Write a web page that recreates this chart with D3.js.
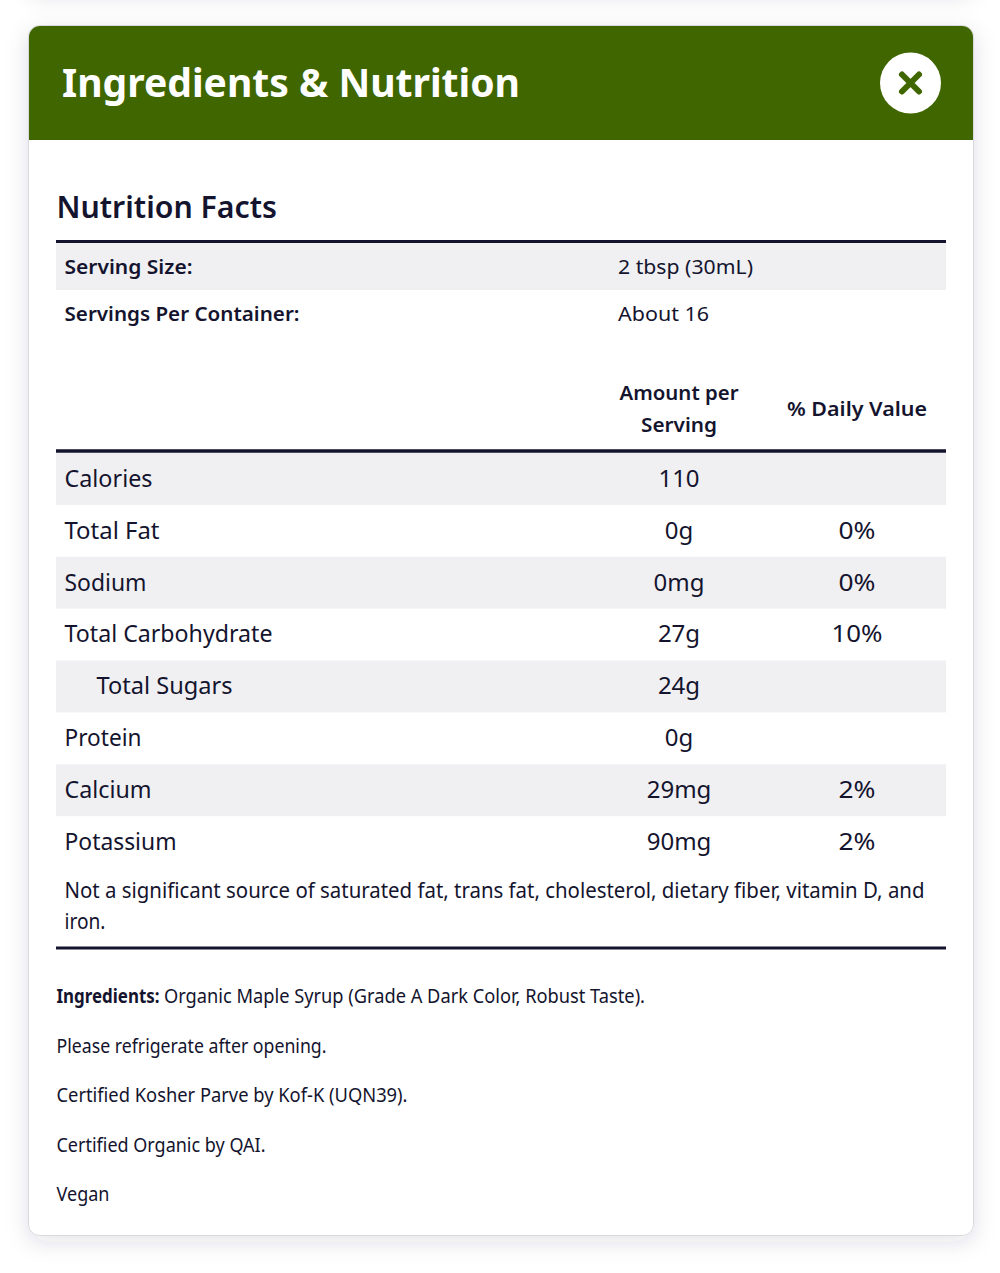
<!DOCTYPE html>
<html>
<head>
<meta charset="utf-8">
<script src="https://cdn.jsdelivr.net/npm/d3@7"></script>
<style>
  html, body { margin: 0; padding: 0; background: #fff; }
  svg { display: block; }
  text { font-family: "Noto Sans", sans-serif; fill: #14142e; }
</style>
</head>
<body>
<div class="canvas"></div>
<script>
// table content
const title = 'Ingredients & Nutrition';
const subtitle = 'Nutrition Facts';
const servingLabels = ['Serving Size:', 'Servings Per Container:'];
const servingValues = ['2 tbsp (30mL)', 'About 16'];
const nutrients = ['Calories', 'Total Fat', 'Sodium', 'Total Carbohydrate', 'Total Sugars', 'Protein', 'Calcium', 'Potassium'];
const amounts = ['110', '0g', '0mg', '27g', '24g', '0g', '29mg', '90mg'];
const dailyValues = ['', '0%', '0%', '10%', '', '', '2%', '2%'];
const indented = ['Total Sugars'];
const footnote = ['Not a significant source of saturated fat, trans fat, cholesterol, dietary fiber, vitamin D, and', 'iron.'];
const notes = ['Organic Maple Syrup (Grade A Dark Color, Robust Taste).', 'Please refrigerate after opening.', 'Certified Kosher Parve by Kof-K (UQN39).', 'Certified Organic by QAI.', 'Vegan'];

const svg = d3.select('.canvas')
    .append('svg')
        .attr('width', 1000)
        .attr('height', 1273);

const green = '#406600';
const ink = '#14142e';
const stripe = '#f0f0f3';

// shadow for the cards
const defs = svg.append('defs');
const shadow = defs.append('filter').attr('id', 'shadow')
    .attr('filterUnits', 'userSpaceOnUse')
    .attr('x', -100).attr('y', -200).attr('width', 1200).attr('height', 1600);
shadow.append('feDropShadow')
    .attr('dx', 0).attr('dy', 6).attr('stdDeviation', 11)
    .attr('flood-color', '#20204a').attr('flood-opacity', 0.13);

// scales
const left = 56, right = 946;
const rowY = d3.scaleBand().domain(nutrients).range([453, 868]);
const servingY = d3.scaleBand().domain(servingLabels).range([243, 337]);
const notesY = d3.scalePoint().domain(notes).range([996.5, 1194.5]);
const colX = d3.scaleOrdinal().domain(['amount', 'daily']).range([679, 857]);

// helper, squeezes the substitute font to the width of the original
const label = (x, y, str, size, weight, width, anchor) => svg.append('text')
    .attr('x', x)
    .attr('y', y)
    .attr('dy', '0.35em')
    .attr('text-anchor', anchor || 'start')
    .attr('font-size', size)
    .attr('font-weight', weight)
    .attr('textLength', width)
    .attr('lengthAdjust', 'spacingAndGlyphs')
    .text(str);

// previous card peeking in at the top, then the card
svg.append('rect').attr('x', 29).attr('y', -60).attr('width', 944).attr('height', 50)
    .attr('rx', 10).attr('fill', '#fff').attr('filter', 'url(#shadow)');
svg.append('rect').attr('x', 28.5).attr('y', 25.5).attr('width', 945).attr('height', 1210)
    .attr('rx', 11).attr('fill', '#fff').attr('stroke', '#d8d8de').attr('filter', 'url(#shadow)');

// header
svg.append('path')
    .attr('d', 'M29,140V37a11,11 0 0 1 11,-11H962a11,11 0 0 1 11,11V140Z')
    .attr('fill', green);
label(62, 83, title, 40, 700, 458).style('fill', '#fff');

// close button
svg.append('circle').attr('cx', 910.5).attr('cy', 83).attr('r', 30.5).attr('fill', '#fff');
svg.append('path')
    .attr('d', 'M902,74.5L919,91.5M919,74.5L902,91.5')
    .attr('stroke', green).attr('stroke-width', 6).attr('stroke-linecap', 'round');

label(56.5, 207, subtitle, 31, 600, 220.5);

// serving rows
svg.append('rect').attr('x', left).attr('y', servingY(servingLabels[0]))
    .attr('width', right - left).attr('height', servingY.bandwidth()).attr('fill', stripe);
const servingWidths = [128, 235];
const servingValueWidths = [135, 91];
servingLabels.forEach((d, i) => {
    const y = servingY(d) + servingY.bandwidth() / 2;
    label(64.5, y, d, 20.5, 600, servingWidths[i]);
    label(618, y, servingValues[i], 20.5, 400, servingValueWidths[i]);
});

// column heads
label(colX('amount'), 393, 'Amount per', 20.5, 600, 119, 'middle');
label(colX('amount'), 425, 'Serving', 20.5, 600, 76, 'middle');
label(colX('daily'), 409, '% Daily Value', 20.5, 600, 140, 'middle');

// rules
[[241.5, 3], [451, 3.5], [948, 3]].forEach(r => {
    svg.append('rect').attr('x', left).attr('y', r[0] - r[1] / 2)
        .attr('width', right - left).attr('height', r[1]).attr('fill', ink);
});

// nutrient rows
const rows = svg.append('g').selectAll('g')
    .data(nutrients)
    .enter()
    .append('g')
        .attr('transform', d => `translate(0, ${rowY(d)})`);

rows.append('rect')
    .attr('x', left)
    .attr('width', right - left)
    .attr('height', rowY.bandwidth())
    .attr('fill', (d, i) => i % 2 == 0 ? stripe : 'none');

const mid = rowY.bandwidth() / 2 - 0.5;
const nameWidths = [88, 95, 82, 208, 136, 77, 87, 112];
rows.append('text')
    .attr('x', d => indented.includes(d) ? 96.5 : 64.5)
    .attr('y', mid)
    .attr('dy', '0.35em')
    .attr('font-size', 24)
    .attr('textLength', (d, i) => nameWidths[i])
    .attr('lengthAdjust', 'spacingAndGlyphs')
    .text(d => d);

rows.append('text')
    .attr('x', colX('amount'))
    .attr('y', mid)
    .attr('dy', '0.35em')
    .attr('text-anchor', 'middle')
    .attr('font-size', 24)
    .text((d, i) => amounts[i]);

// the percent sign runs wider in the original
const dailyWidths = [null, 37, 37, 51, null, null, 37, 37];
rows.append('text')
    .attr('x', colX('daily'))
    .attr('y', mid)
    .attr('dy', '0.35em')
    .attr('text-anchor', 'middle')
    .attr('font-size', 24)
    .attr('textLength', (d, i) => dailyWidths[i])
    .attr('lengthAdjust', 'spacingAndGlyphs')
    .text((d, i) => dailyValues[i]);

// footnote
label(64.5, 890.5, footnote[0], 21.5, 400, 860);
label(64.5, 921.5, footnote[1], 21.5, 400, 41);

// ingredient notes
const noteWidths = [481, 270, 351, 209, 53];
notes.forEach((d, i) => {
    const y = notesY(d);
    if (i == 0) {
        label(56.5, y, 'Ingredients:', 19.5, 700, 103);
        label(164, y, d, 19.5, 400, noteWidths[i]);
    } else {
        label(56.5, y, d, 19.5, 400, noteWidths[i]);
    }
});
</script>
</body>
</html>
